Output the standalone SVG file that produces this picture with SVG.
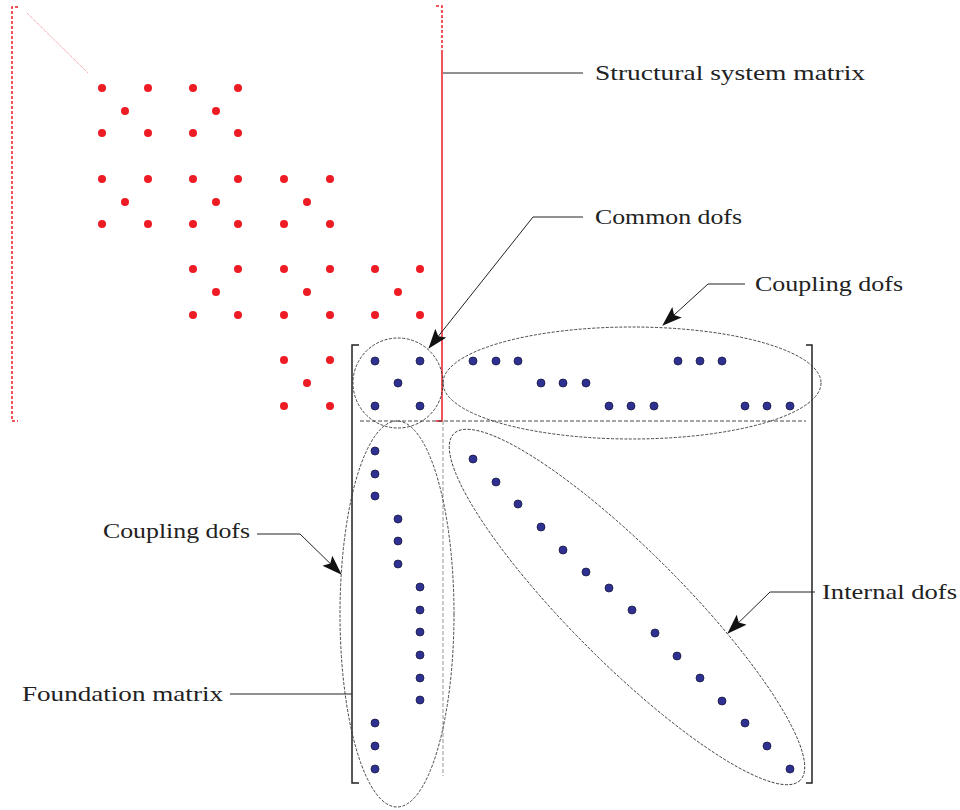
<svg xmlns="http://www.w3.org/2000/svg" width="960" height="810" viewBox="0 0 960 810">
<style>
.lbl{font-family:"Liberation Serif","DejaVu Serif",serif;font-size:21px;fill:#222}
.r{fill:#ed1c24}
.b{fill:#2e3192;stroke:#1a1a40;stroke-width:0.8}
.ell{fill:none;stroke:#333;stroke-width:0.9;stroke-dasharray:3 1.5}
.lead{fill:none;stroke:#222;stroke-width:1}
.brk{fill:none;stroke:#222;stroke-width:1.5}
</style>
<defs>
<marker id="ah" viewBox="0 0 20 14" refX="19" refY="7" markerWidth="20" markerHeight="14" markerUnits="userSpaceOnUse" orient="auto">
<path d="M0,0 L20,7 L0,14 L4,7 Z" fill="#111"/>
</marker>
</defs>
<rect width="960" height="810" fill="#fff"/>
<g id="structural-matrix">
<path d="M18,7 H12 V421 H18" fill="none" stroke="#ed1c24" stroke-width="1.5" stroke-dasharray="3 2"/>
<path d="M436,6 H442 V52" fill="none" stroke="#ed1c24" stroke-width="1.5" stroke-dasharray="3 2"/>
<path d="M442,52 V421 H436" fill="none" stroke="#ed1c24" stroke-width="1.5"/>
<line x1="27" y1="13" x2="88" y2="73" stroke="#ed1c24" stroke-width="0.7" stroke-dasharray="1 1" opacity="0.8"/>
<g id="red-dots">
<circle class="r" cx="102" cy="88" r="4"/><circle class="r" cx="148" cy="88" r="4"/><circle class="r" cx="125" cy="111" r="4"/><circle class="r" cx="102" cy="133" r="4"/><circle class="r" cx="148" cy="133" r="4"/>
<circle class="r" cx="193" cy="88" r="4"/><circle class="r" cx="238" cy="88" r="4"/><circle class="r" cx="216" cy="111" r="4"/><circle class="r" cx="193" cy="133" r="4"/><circle class="r" cx="238" cy="133" r="4"/>
<circle class="r" cx="102" cy="179" r="4"/><circle class="r" cx="148" cy="179" r="4"/><circle class="r" cx="125" cy="202" r="4"/><circle class="r" cx="102" cy="224" r="4"/><circle class="r" cx="148" cy="224" r="4"/>
<circle class="r" cx="193" cy="179" r="4"/><circle class="r" cx="238" cy="179" r="4"/><circle class="r" cx="216" cy="202" r="4"/><circle class="r" cx="193" cy="224" r="4"/><circle class="r" cx="238" cy="224" r="4"/>
<circle class="r" cx="284" cy="179" r="4"/><circle class="r" cx="330" cy="179" r="4"/><circle class="r" cx="307" cy="202" r="4"/><circle class="r" cx="284" cy="224" r="4"/><circle class="r" cx="330" cy="224" r="4"/>
<circle class="r" cx="193" cy="269" r="4"/><circle class="r" cx="238" cy="269" r="4"/><circle class="r" cx="216" cy="292" r="4"/><circle class="r" cx="193" cy="315" r="4"/><circle class="r" cx="238" cy="315" r="4"/>
<circle class="r" cx="284" cy="269" r="4"/><circle class="r" cx="330" cy="269" r="4"/><circle class="r" cx="307" cy="292" r="4"/><circle class="r" cx="284" cy="315" r="4"/><circle class="r" cx="330" cy="315" r="4"/>
<circle class="r" cx="375" cy="269" r="4"/><circle class="r" cx="420" cy="269" r="4"/><circle class="r" cx="398" cy="292" r="4"/><circle class="r" cx="375" cy="315" r="4"/><circle class="r" cx="420" cy="315" r="4"/>
<circle class="r" cx="284" cy="360" r="4"/><circle class="r" cx="330" cy="360" r="4"/><circle class="r" cx="307" cy="383" r="4"/><circle class="r" cx="284" cy="406" r="4"/><circle class="r" cx="330" cy="406" r="4"/>
</g>
</g>
<g id="foundation-matrix">
<path class="brk" d="M359,345 H352 V783 H359"/>
<path class="brk" d="M806,345 H812 V783 H806"/>
<line x1="360" y1="421" x2="806" y2="421" stroke="#333" stroke-width="0.9" stroke-dasharray="4 2"/>
<line x1="443" y1="421" x2="443" y2="776" stroke="#888" stroke-width="0.9" stroke-dasharray="4 2"/>
</g>
<g id="common-dofs">
<ellipse class="ell" cx="398" cy="383" rx="45" ry="45"/>
<circle class="b" cx="375" cy="361" r="4"/><circle class="b" cx="420" cy="361" r="4"/><circle class="b" cx="398" cy="383" r="4"/><circle class="b" cx="375" cy="406" r="4"/><circle class="b" cx="420" cy="406" r="4"/>
</g>
<g id="coupling-dofs-top">
<ellipse class="ell" cx="632" cy="383" rx="189" ry="56"/>
<circle class="b" cx="473" cy="361" r="4"/><circle class="b" cx="496" cy="361" r="4"/><circle class="b" cx="518" cy="361" r="4"/>
<circle class="b" cx="541" cy="383" r="4"/><circle class="b" cx="563" cy="383" r="4"/><circle class="b" cx="586" cy="383" r="4"/>
<circle class="b" cx="609" cy="406" r="4"/><circle class="b" cx="631" cy="406" r="4"/><circle class="b" cx="654" cy="406" r="4"/>
<circle class="b" cx="678" cy="361" r="4"/><circle class="b" cx="700" cy="361" r="4"/><circle class="b" cx="722" cy="361" r="4"/>
<circle class="b" cx="745" cy="406" r="4"/><circle class="b" cx="767" cy="406" r="4"/><circle class="b" cx="790" cy="406" r="4"/>
</g>
<g id="coupling-dofs-left">
<ellipse class="ell" cx="397" cy="614" rx="57" ry="193"/>
<circle class="b" cx="375" cy="451" r="4"/><circle class="b" cx="375" cy="474" r="4"/><circle class="b" cx="375" cy="496" r="4"/>
<circle class="b" cx="398" cy="519" r="4"/><circle class="b" cx="398" cy="541" r="4"/><circle class="b" cx="398" cy="564" r="4"/>
<circle class="b" cx="420" cy="587" r="4"/><circle class="b" cx="420" cy="610" r="4"/><circle class="b" cx="420" cy="632" r="4"/><circle class="b" cx="420" cy="655" r="4"/><circle class="b" cx="420" cy="678" r="4"/><circle class="b" cx="420" cy="700" r="4"/>
<circle class="b" cx="375" cy="723" r="4"/><circle class="b" cx="375" cy="746" r="4"/><circle class="b" cx="375" cy="769" r="4"/>
</g>
<g id="internal-dofs">
<ellipse class="ell" cx="627" cy="607" rx="245" ry="56" transform="rotate(45 627 607)"/>
<circle class="b" cx="473" cy="459" r="4"/><circle class="b" cx="496" cy="482" r="4"/><circle class="b" cx="518" cy="504" r="4"/><circle class="b" cx="541" cy="527" r="4"/><circle class="b" cx="563" cy="550" r="4"/><circle class="b" cx="586" cy="572" r="4"/><circle class="b" cx="609" cy="588" r="4"/><circle class="b" cx="632" cy="610" r="4"/><circle class="b" cx="655" cy="633" r="4"/><circle class="b" cx="677" cy="656" r="4"/><circle class="b" cx="700" cy="678" r="4"/><circle class="b" cx="722" cy="701" r="4"/><circle class="b" cx="745" cy="723" r="4"/><circle class="b" cx="767" cy="746" r="4"/><circle class="b" cx="790" cy="769" r="4"/>
</g>
<g id="connectors">
<path class="lead" d="M443,73 H583"/>
<path class="lead" d="M583,217 H533 L429,348" marker-end="url(#ah)"/>
<path class="lead" d="M745,284 H708 L663,325" marker-end="url(#ah)"/>
<path class="lead" d="M815,592 H770 L728,633" marker-end="url(#ah)"/>
<path class="lead" d="M257,534 H300 L341,574" marker-end="url(#ah)"/>
<path class="lead" d="M230,694 H352"/>
</g>
<g id="labels">
<text class="lbl" x="595" y="80" textLength="270" lengthAdjust="spacingAndGlyphs">Structural system matrix</text>
<text class="lbl" x="595" y="224" textLength="147" lengthAdjust="spacingAndGlyphs">Common dofs</text>
<text class="lbl" x="755" y="291" textLength="148" lengthAdjust="spacingAndGlyphs">Coupling dofs</text>
<text class="lbl" x="822" y="599" textLength="135" lengthAdjust="spacingAndGlyphs">Internal dofs</text>
<text class="lbl" x="103" y="538" textLength="147" lengthAdjust="spacingAndGlyphs">Coupling dofs</text>
<text class="lbl" x="22" y="701" textLength="201" lengthAdjust="spacingAndGlyphs">Foundation matrix</text>
</g>
</svg>
